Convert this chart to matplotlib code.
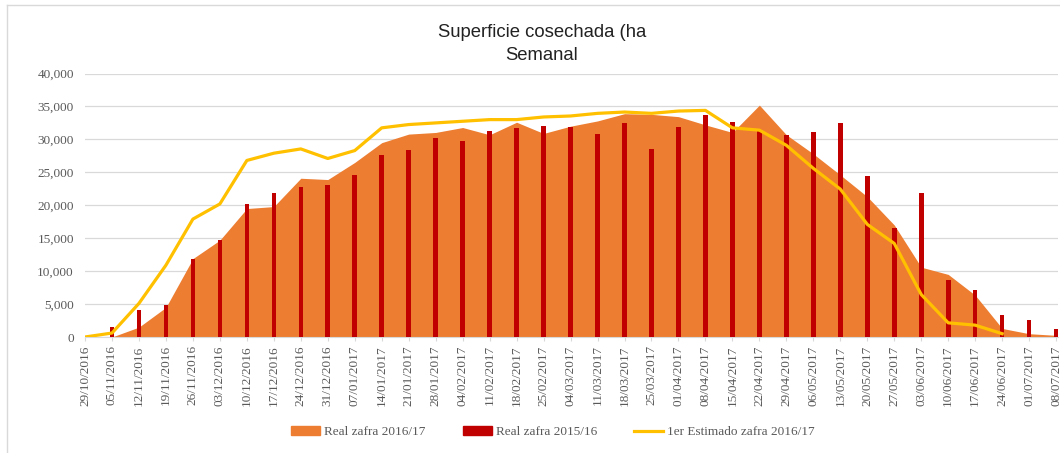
"""
Weekly harvested area (ha) - zafra 2016/17 vs 2015/16 and first estimate.
"""
import numpy as np
import matplotlib
matplotlib.use('Agg')
import matplotlib.pyplot as plt
from matplotlib.lines import Line2D
from matplotlib.patches import Patch
from matplotlib.ticker import FuncFormatter

weeks = ['29/10/2016', '05/11/2016', '12/11/2016', '19/11/2016', '26/11/2016',
         '03/12/2016', '10/12/2016', '17/12/2016', '24/12/2016', '31/12/2016',
         '07/01/2017', '14/01/2017', '21/01/2017', '28/01/2017', '04/02/2017',
         '11/02/2017', '18/02/2017', '25/02/2017', '04/03/2017', '11/03/2017',
         '18/03/2017', '25/03/2017', '01/04/2017', '08/04/2017', '15/04/2017',
         '22/04/2017', '29/04/2017', '06/05/2017', '13/05/2017', '20/05/2017',
         '27/05/2017', '03/06/2017', '10/06/2017', '17/06/2017', '24/06/2017',
         '01/07/2017', '08/07/2017']

# Real zafra 2016/17 (area)
real_1617 = [0, 0, 1500, 4500, 11900, 14700, 19500, 19800, 24100, 23900,
             26500, 29500, 30800, 31050, 31800, 30700, 32600, 30900, 32000, 32800,
             33900, 33800, 33450, 32200, 31050, 35200, 30700, 27800, 24600, 21300,
             17000, 10600, 9500, 6350, 1300, 500, 250]

# Real zafra 2015/16 (bars)
real_1516 = [0, 1500, 4050, 4800, 11800, 14700, 20200, 21800, 22700, 23000,
             24650, 27600, 28450, 30250, 29700, 31250, 31700, 32000, 31900, 30750,
             32500, 28600, 31850, 33750, 32600, 31200, 30650, 31050, 32450, 24500,
             16500, 21800, 8700, 7150, 3350, 2550, 1200]

# 1er Estimado zafra 2016/17 (line, ends 24/06)
estimado_1617 = [0, 600, 5100, 10900, 17900, 20200, 26800, 27900, 28550, 27100,
                 28300, 31750, 32250, 32500, 32750, 33000, 33000, 33400, 33550, 33950,
                 34150, 33950, 34300, 34400, 31750, 31400, 29100, 25600, 22450, 17100,
                 14200, 6450, 2150, 1800, 500]

AREA_C = '#ED7D31'
BAR_C = '#C00000'
LINE_C = '#FFC000'
TXT_C = '#595959'
GRID_C = '#D9D9D9'

plt.rcParams['font.family'] = ['Liberation Serif', 'DejaVu Serif']

fig = plt.figure(figsize=(10.6, 4.53), dpi=100)
W, H = 1060, 453
ax = fig.add_axes([85 / W, 1 - 337 / H, (1058 - 85) / W, (337 - 73.5) / H])

x = np.arange(len(weeks))
ax.fill_between(x, real_1617, 0, color=AREA_C, linewidth=0, zorder=2)
ax.bar(x, real_1516, width=0.17, color=BAR_C, zorder=3)
ax.plot(x[:len(estimado_1617)], estimado_1617, color=LINE_C, lw=2.3,
        solid_joinstyle='round', zorder=4)

ax.set_xlim(0, len(weeks) - 1 + 0.07)
ax.set_ylim(0, 40000)
ax.set_yticks(np.arange(0, 40001, 5000))
ax.yaxis.set_major_formatter(FuncFormatter(lambda v, p: f'{int(v):,}'))
ax.grid(axis='y', color=GRID_C, lw=0.9, zorder=0)
ax.set_xticks(x)
ax.set_xticklabels(weeks, rotation=90)
ax.tick_params(axis='y', length=0, labelsize=9.5, labelcolor=TXT_C, pad=8)
ax.tick_params(axis='x', length=3, color=GRID_C, labelsize=9.5,
               labelcolor=TXT_C, pad=3)
for s in ['top', 'right', 'left']:
    ax.spines[s].set_visible(False)
ax.spines['bottom'].set_color(GRID_C)

fig.text(542 / W, 1 - 44 / H, 'Superficie cosechada (ha\nSemanal',
         ha='center', va='center', fontsize=13.3, color='#222222',
         family=['Liberation Sans', 'DejaVu Sans'], linespacing=1.45)

# chart frame (left and top edges visible)
fig.add_artist(Line2D([7 / W, 7 / W], [0, 1 - 5 / H], color=GRID_C, lw=1))
fig.add_artist(Line2D([7 / W, 1], [1 - 5 / H, 1 - 5 / H], color=GRID_C, lw=1))

handles = [Patch(color=AREA_C), Patch(color=BAR_C),
           Line2D([], [], color=LINE_C, lw=2.3)]
labels = ['Real zafra 2016/17', 'Real zafra 2015/16', '1er Estimado zafra 2016/17']
fig.legend(handles, labels, loc='center', bbox_to_anchor=(553 / W, 1 - 432 / H),
           ncol=3, frameon=False, fontsize=9.5, labelcolor=TXT_C,
           columnspacing=2.8, handlelength=2.2, handletextpad=0.3,
           handleheight=0.6)

fig.savefig('out.png', dpi=100, facecolor='white')
